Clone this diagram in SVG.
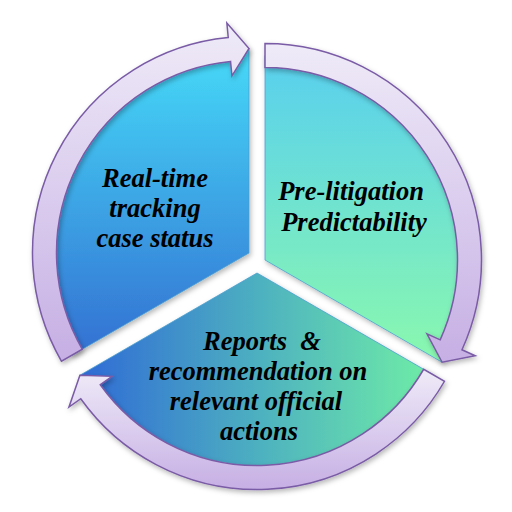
<svg xmlns="http://www.w3.org/2000/svg" width="512" height="512" viewBox="0 0 512 512">
  <defs>
    <linearGradient id="g1" x1="0" y1="0" x2="0" y2="1">
      <stop offset="0" stop-color="#46DAF8"/>
      <stop offset="1" stop-color="#3370D2"/>
    </linearGradient>
    <linearGradient id="g2" x1="0" y1="0" x2="0" y2="1">
      <stop offset="0" stop-color="#58CFEF"/>
      <stop offset="1" stop-color="#8AF8AE"/>
    </linearGradient>
    <linearGradient id="g3" x1="0" y1="0" x2="1" y2="0">
      <stop offset="0" stop-color="#2F6AD6"/>
      <stop offset="0.5" stop-color="#4DB0C0"/>
      <stop offset="1" stop-color="#70EEA6"/>
    </linearGradient>
    <linearGradient id="ga" x1="0" y1="0" x2="0" y2="1">
      <stop offset="0" stop-color="#EFEBF8"/>
      <stop offset="1" stop-color="#C6AFE4"/>
    </linearGradient>
    <filter id="sh" x="-10%" y="-10%" width="120%" height="120%">
      <feDropShadow dx="1.5" dy="2.5" stdDeviation="2.5" flood-color="#000" flood-opacity="0.28"/>
    </filter>
  </defs>
  <style>
    .sector { stroke: #4A9FD0; stroke-width: 1; stroke-opacity: 0.8; filter: url(#sh); }
    .arrow { fill: url(#ga); stroke: #7A5BA6; stroke-width: 1.5; stroke-linejoin: miter; filter: url(#sh); }
    .lbl { font-family: "Liberation Serif", "Times New Roman", serif; font-weight: bold; font-style: italic; font-size: 26.5px; fill: #000; text-anchor: middle; }
  </style>
  <rect width="512" height="512" fill="#FFFFFF"/>

  <g id="node-realtime">
    <path class="sector" fill="url(#g1)" d="M249,253 L71.9,355.25 A204.5,204.5 0 0 1 249,48.5 Z"/>
    <text class="lbl"><tspan x="155" y="187">Real-time</tspan><tspan x="155" y="217">tracking</tspan><tspan x="155" y="247">case status</tspan></text>
  </g>

  <g id="node-prelitigation">
    <path class="sector" fill="url(#g2)" d="M265,260 L265,55.5 A204.5,204.5 0 0 1 442.1,362.25 Z"/>
    <text class="lbl"><tspan x="351" y="199.5">Pre-litigation</tspan><tspan x="354" y="230.5">Predictability</tspan></text>
  </g>

  <g id="node-reports">
    <path class="sector" fill="url(#g3)" d="M257,273 L434.1,375.25 A204.5,204.5 0 0 1 79.9,375.25 Z"/>
    <text class="lbl" xml:space="preserve"><tspan x="262" y="349.5">Reports  &amp;</tspan><tspan x="258" y="379.5">recommendation on</tspan><tspan x="256" y="409.5">relevant official</tspan><tspan x="259" y="439.5">actions</tspan></text>
  </g>

  <g id="connectors">
    <path class="arrow" d="M61.5,361.25 A216.5,216.5 0 0 1 228.25,37.5 L226.86,23.07 L249,48.5 L231.94,75.82 L230.55,61.39 A192.5,192.5 0 0 0 82.3,349.25 Z"/>
    <path class="arrow" d="M265,43.5 A216.5,216.5 0 0 1 462,349.78 L475.2,355.79 L442.1,362.25 L426.97,333.81 L440.17,339.83 A192.5,192.5 0 0 0 265,67.5 Z"/>
    <path class="arrow" d="M444.5,381.25 A216.5,216.5 0 0 1 80.74,398.72 L68.94,407.14 L79.9,375.25 L112.09,376.36 L100.28,384.78 A192.5,192.5 0 0 0 423.7,369.25 Z"/>
  </g>
</svg>
